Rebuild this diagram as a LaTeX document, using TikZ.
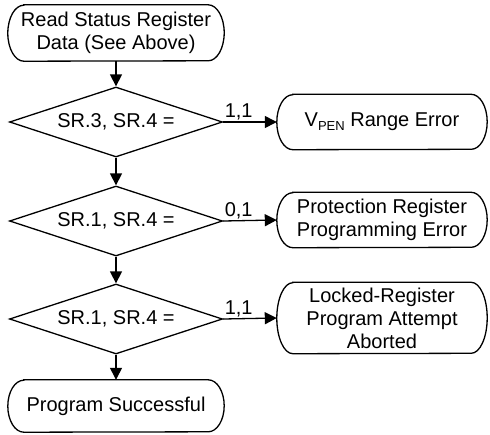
\documentclass[tikz,border=0pt]{standalone}
\usepackage{fontspec}
\setmainfont{Liberation Sans}
\usetikzlibrary{shapes.geometric,arrows.meta}
\newcommand{\termline}[2]{%
  \draw[line width=1.3pt] ([xshift=16pt]#1.north west) -- ([xshift=-16pt]#1.north east)
    arc[start angle=90,end angle=-90,x radius=16pt,y radius=#2pt]
    -- ([xshift=16pt]#1.south west)
    arc[start angle=270,end angle=90,x radius=16pt,y radius=#2pt] -- cycle;}
\begin{document}
\begin{tikzpicture}[x=1pt,y=-1pt,
  every node/.style={font=\fontsize{20}{23}\selectfont, align=center, inner sep=0pt},
  term/.style={rectangle, minimum width=#1},
  term/.default=216pt,
  dec/.style={draw, line width=1.3pt, diamond, aspect=3, minimum width=213pt, minimum height=70pt},
  arr/.style={line width=1.3pt, -{Triangle[length=12pt,width=12pt]}},
  lab/.style={font=\fontsize{20}{20}\selectfont, anchor=south west}
]
\useasboundingbox (0,0) rectangle (490,434);
\node[term, minimum height=56pt] (start) at (116,33) {Read Status Register\\Data (See Above)};
\node[dec] (d1) at (116,122) {SR.3, SR.4 =};
\node[term=210pt, minimum height=55pt] (t1) at (382,122) {V\raisebox{-0.35ex}{\fontsize{13}{13}\selectfont PEN} Range Error};
\node[dec] (d2) at (116,221) {SR.1, SR.4 =};
\node[term=210pt, minimum height=55pt] (t2) at (382,220) {Protection Register\\Programming Error};
\node[dec] (d3) at (116,319) {SR.1, SR.4 =};
\node[term=210pt, minimum height=71pt] (t3) at (382,318) {Locked-Register\\Program Attempt\\Aborted};
\node[term, minimum height=52pt] (end) at (116,406) {Program Successful};
\termline{start}{28}
\termline{t1}{27.5}
\termline{t2}{27.5}
\termline{t3}{35.5}
\termline{end}{26}
\draw[arr] (start) -- (d1);
\draw[arr] (d1) -- (d2);
\draw[arr] (d2) -- (d3);
\draw[arr] (d3) -- (end);
\draw[arr] (d1.east) -- (t1.west) node[lab, pos=0, xshift=1pt, yshift=1pt] {1,1};
\draw[arr] (d2.east) -- (t2.west) node[lab, pos=0, xshift=1pt, yshift=1pt] {0,1};
\draw[arr] (d3.east) -- (t3.west) node[lab, pos=0, xshift=1pt, yshift=1pt] {1,1};
\end{tikzpicture}
\end{document}
